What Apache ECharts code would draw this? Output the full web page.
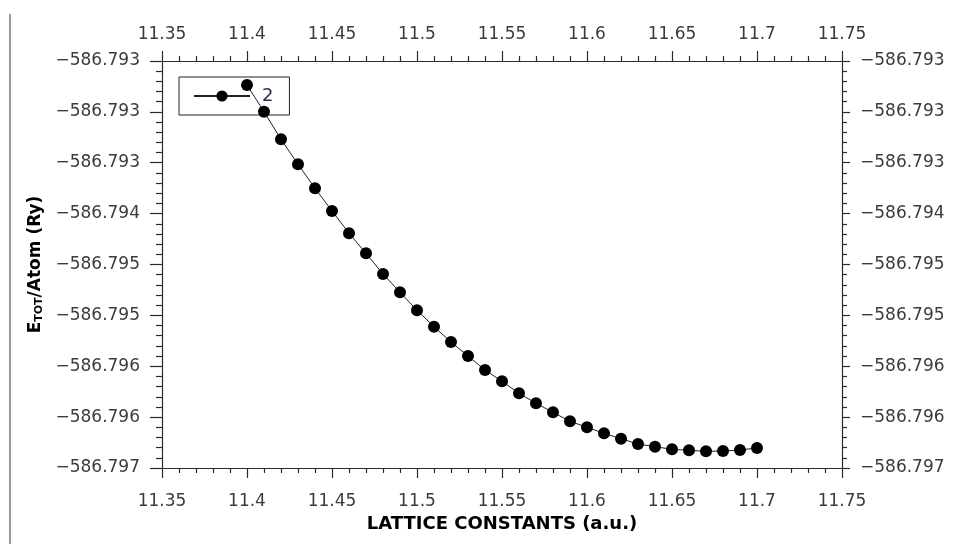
<!DOCTYPE html>
<html>
<head>
<meta charset="utf-8">
<script src="https://cdn.jsdelivr.net/npm/echarts@6/dist/echarts.min.js"></script>
<style>
  html, body { margin: 0; padding: 0; background: #fff; }
  #main { width: 977px; height: 544px; }
</style>
</head>
<body>
<div id="main"></div>
<script>
// 晶格常数 - 总能量曲线
var latticeX = [11.40, 11.41, 11.42, 11.43, 11.44, 11.45, 11.46, 11.47, 11.48, 11.49,
                11.50, 11.51, 11.52, 11.53, 11.54, 11.55, 11.56, 11.57, 11.58, 11.59,
                11.60, 11.61, 11.62, 11.63, 11.64, 11.65, 11.66, 11.67, 11.68, 11.69, 11.70];
var energyY = [-586.793236, -586.793498, -586.793770, -586.794015, -586.794251, -586.794474,
               -586.794693, -586.794890, -586.795093, -586.795273, -586.795450, -586.795611,
               -586.795762, -586.795899, -586.796037, -586.796148, -586.796266, -586.796364,
               -586.796453, -586.796541, -586.796600, -586.796659, -586.796712, -586.796764,
               -586.796791, -586.796816, -586.796826, -586.796836, -586.796833, -586.796823,
               -586.796803];
var xTickLabels = ['11.35', '11.4', '11.45', '11.5', '11.55', '11.6', '11.65', '11.7', '11.75'];
// 从下往上
var yTickLabels = ['\u2212586.797', '\u2212586.796', '\u2212586.796', '\u2212586.795', '\u2212586.795',
                   '\u2212586.794', '\u2212586.793', '\u2212586.793', '\u2212586.793'];
var seriesName = '2';

var xMin = 11.35, xMax = 11.75, xStep = 0.05;
var yMin = -586.797, yMax = -586.793, yStep = 0.0005;

var myChart = echarts.init(document.getElementById('main'));

var pts = [];
for (var i = 0; i < latticeX.length; i++) {
  pts.push([latticeX[i], energyY[i]]);
}

var fontFam = 'DejaVu Sans';
var lblColor = '#3b3b3b';
var axisColor = '#2b2b2b';

var xFmt = function (v) {
  return xTickLabels[Math.round((v - xMin) / xStep)] || '';
};
var yFmt = function (v) {
  return yTickLabels[Math.round((v - yMin) / yStep)] || '';
};

var makeX = function (pos, showName) {
  return {
    type: 'value',
    position: pos,
    min: xMin, max: xMax, interval: xStep,
    name: showName ? 'LATTICE CONSTANTS (a.u.)' : '',
    nameLocation: 'middle',
    nameGap: 46,
    nameTextStyle: { fontFamily: fontFam, fontWeight: 'bold', fontSize: 18, color: '#000' },
    splitLine: { show: false },
    axisLine: { show: true, onZero: false, lineStyle: { color: axisColor, width: 1.2 } },
    axisTick: { show: true, inside: false, length: 10, lineStyle: { color: axisColor, width: 1.2 } },
    minorTick: { show: true, splitNumber: 5, length: 5, lineStyle: { color: axisColor, width: 1.2 } },
    axisLabel: {
      fontFamily: fontFam, fontSize: 17, color: lblColor,
      margin: pos === 'top' ? 18 : 25,
      formatter: xFmt
    }
  };
};

var makeY = function (pos, showName) {
  return {
    type: 'value',
    position: pos,
    min: yMin, max: yMax, interval: yStep,
    name: showName ? '{b|E}{s|TOT}{b|/Atom (Ry)}' : '',
    nameLocation: 'middle',
    nameGap: 114,
    nameTextStyle: {
      rich: {
        b: { fontFamily: fontFam, fontWeight: 'bold', fontSize: 17, color: '#000' },
        s: { fontFamily: fontFam, fontWeight: 'bold', fontSize: 11, color: '#000', padding: [6, 0, 0, 0] }
      }
    },
    splitLine: { show: false },
    axisLine: { show: true, onZero: false, lineStyle: { color: axisColor, width: 1.2 } },
    axisTick: { show: true, inside: false, length: pos === 'left' ? 12 : 8, lineStyle: { color: axisColor, width: 1.2 } },
    minorTick: { show: true, splitNumber: 5, length: pos === 'left' ? 6 : 5, lineStyle: { color: axisColor, width: 1.2 } },
    axisLabel: {
      fontFamily: fontFam, fontSize: 17, color: lblColor,
      margin: pos === 'left' ? 22 : 18,
      formatter: yFmt
    }
  };
};

var option = {
  backgroundColor: '#fff',
  animation: false,
  grid: { left: 162, right: 135, top: 61, bottom: 76, containLabel: false },
  xAxis: [makeX('bottom', true), makeX('top', false)],
  yAxis: [makeY('left', true), makeY('right', false)],
  legend: {
    left: 179, top: 77,
    z: 1,
    orient: 'horizontal',
    data: [seriesName],
    itemWidth: 56, itemHeight: 14,
    padding: [10, 16, 10, 14],
    borderColor: '#222', borderWidth: 1, borderRadius: 0,
    textStyle: { fontFamily: fontFam, fontSize: 18, color: '#1f3050', padding: [0, 0, 0, 7] }
  },
  graphic: [{
    type: 'line',
    shape: { x1: 10, y1: 14, x2: 10, y2: 544 },
    style: { stroke: '#9a9a9a', lineWidth: 2 }
  }],
  series: [{
    name: seriesName,
    type: 'line',
    xAxisIndex: 0, yAxisIndex: 0,
    data: pts,
    symbol: 'circle',
    symbolSize: 12,
    lineStyle: { color: '#222', width: 1 },
    itemStyle: { color: '#000' }
  }]
};
myChart.setOption(option);
</script>
</body>
</html>
